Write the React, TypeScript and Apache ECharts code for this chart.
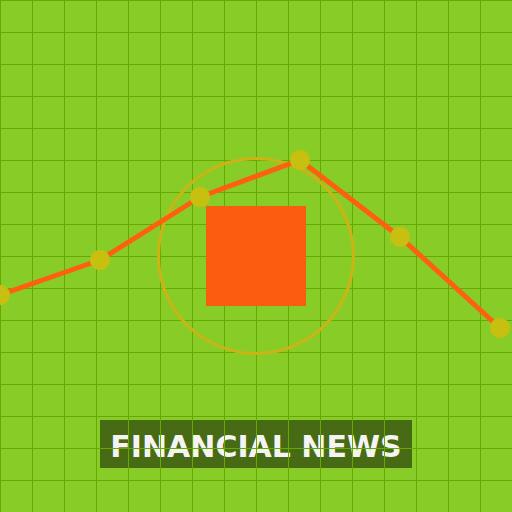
import React, { useEffect, useRef } from 'react';
import * as echarts from 'echarts';

// line points (x across, y up, 0..512)
const xValues = [0, 100, 200, 300, 400, 500];
const yValues = [217, 252, 315, 352, 275, 184];
const ringCenter = [256, 256];
const boxCenter = [256, 256];
const titleText = 'FINANCIAL NEWS';

const App: React.FC = () => {
  const chartRef = useRef<HTMLDivElement>(null);

  useEffect(() => {
    document.body.style.margin = '0';
    if (!chartRef.current) return;
    const chart = echarts.init(chartRef.current, undefined, { renderer: 'svg' });

    const splitLine = { show: true, lineStyle: { color: '#66aa00', width: 1 } };
    const hiddenAxis = {
      type: 'value' as const,
      min: 0,
      max: 512,
      interval: 32,
      axisLine: { show: false },
      axisTick: { show: false },
      axisLabel: { show: false },
      splitLine,
    };

    chart.setOption({
      animation: false,
      backgroundColor: '#88cc28',
      grid: { left: 0, right: 0, top: 0, bottom: 0 },
      xAxis: hiddenAxis,
      yAxis: hiddenAxis,
      series: [
        {
          type: 'scatter',
          data: [ringCenter],
          symbol: 'circle',
          symbolSize: 195,
          itemStyle: { color: 'rgba(0,0,0,0)', borderColor: '#ccb414', borderWidth: 3, opacity: 1 },
          silent: true,
          z: 1,
        },
        {
          type: 'scatter',
          data: [boxCenter],
          symbol: 'rect',
          symbolSize: 100,
          itemStyle: { color: '#fa5c10', opacity: 1 },
          silent: true,
          z: 2,
        },
        {
          type: 'line',
          data: xValues.map((x, i) => [x, yValues[i]]),
          symbol: 'circle',
          symbolSize: 20,
          showSymbol: true,
          clip: false,
          lineStyle: { color: '#ff6010', width: 5 },
          itemStyle: { color: '#c8c010', opacity: 1 },
          z: 3,
        },
      ],
      graphic: [
        {
          type: 'group',
          left: 100,
          top: 420,
          children: [
            {
              type: 'rect',
              shape: { x: 0, y: 0, width: 312, height: 48 },
              style: { fill: 'rgba(0,0,0,0.48)' },
            },
            {
              type: 'text',
              x: 156,
              y: 26,
              style: {
                text: titleText,
                fill: '#f4f4f4',
                fontFamily: 'DejaVu Sans',
                fontWeight: 'bold',
                fontSize: 30,
                align: 'center',
                verticalAlign: 'middle',
                lineWidth: 0,
                textBorderWidth: 0,
              },
            },
          ],
        },
      ],
    });

    return () => {
      chart.dispose();
    };
  }, []);

  return <div ref={chartRef} style={{ width: '512px', height: '512px' }}></div>;
};

export default App;
